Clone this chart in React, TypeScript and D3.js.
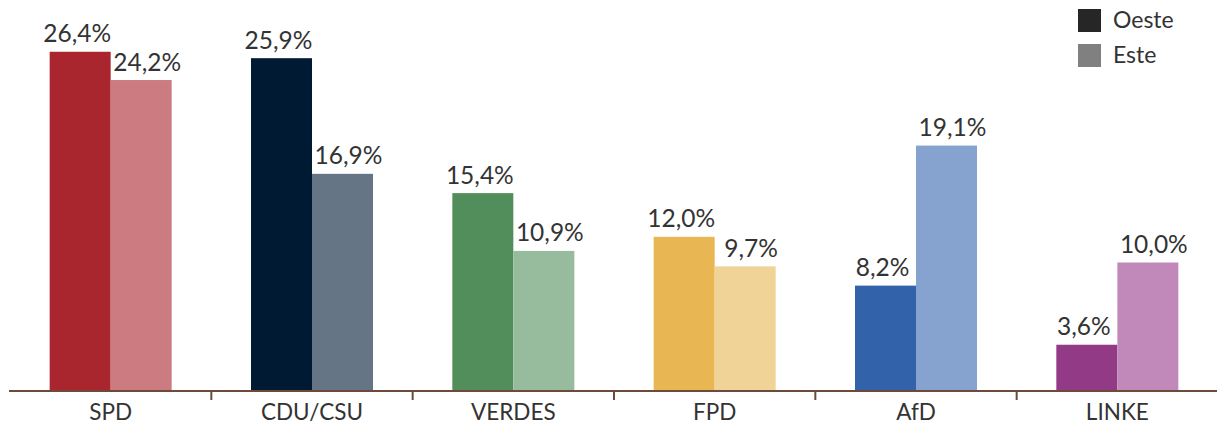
import React from "react";
import * as d3 from "d3";

const categories = ["SPD", "CDU/CSU", "VERDES", "FPD", "AfD", "LINKE"];
const oeste = [26.4, 25.9, 15.4, 12.0, 8.2, 3.6];
const este = [24.2, 16.9, 10.9, 9.7, 19.1, 10.0];
const colorsOeste = ["#a9262f", "#011a33", "#528e5c", "#e8b652", "#3162aa", "#933a86"];
const colorsEste = ["#cc7b81", "#657585", "#97bb9d", "#f0d497", "#86a3cf", "#c189b9"];
const legendItems = [
  { label: "Oeste", color: "#262626" },
  { label: "Este", color: "#808080" },
];

const W = 1217;
const H = 431;
const FONT = "Lato, 'Open Sans', sans-serif";

export default function App() {
  const x = d3.scaleBand<string>().domain(categories).range([10, 1218]).padding(0);
  const y = d3.scaleLinear().domain([0, 30]).range([391, 5.5]);
  const barW = 61;
  const labelShift = [-3, 6];
  const fmt = (v: number) => v.toFixed(1).replace(".", ",") + "%";

  return (
    <svg
      width={W}
      height={H}
      style={{ position: "absolute", left: 0, top: 0, background: "#fff" }}
      fontFamily={FONT}
    >
      {categories.map((c, i) => {
        const cx = (x(c) as number) + x.bandwidth() / 2;
        const vals = [oeste[i], este[i]];
        const cols = [colorsOeste[i], colorsEste[i]];
        return (
          <g key={c}>
            {vals.map((v, j) => {
              const bx = cx - barW + j * barW;
              return (
                <g key={j}>
                  <rect x={bx} y={y(v)} width={barW} height={y(0) - y(v)} fill={cols[j]} />
                  <text
                    x={bx + barW / 2 + labelShift[j]}
                    y={y(v) - 9.5}
                    textAnchor="middle"
                    fontSize={24.5}
                    fill="#333"
                  >
                    {fmt(v)}
                  </text>
                </g>
              );
            })}
            <text x={cx} y={420} textAnchor="middle" fontSize={22.5} fill="#333">
              {c}
            </text>
          </g>
        );
      })}
      <line x1={9} x2={1217} y1={391} y2={391} stroke="#6e4a3a" strokeWidth={2} />
      {categories.slice(1).map((c) => (
        <line
          key={c}
          x1={x(c) as number}
          x2={x(c) as number}
          y1={391}
          y2={400}
          stroke="#6e4a3a"
          strokeWidth={2}
        />
      ))}
      {legendItems.map((l, i) => (
        <g key={l.label}>
          <rect x={1078} y={9 + i * 35} width={23} height={23} fill={l.color} />
          <text x={1113} y={28 + i * 35} fontSize={23} fill="#333">
            {l.label}
          </text>
        </g>
      ))}
    </svg>
  );
}
